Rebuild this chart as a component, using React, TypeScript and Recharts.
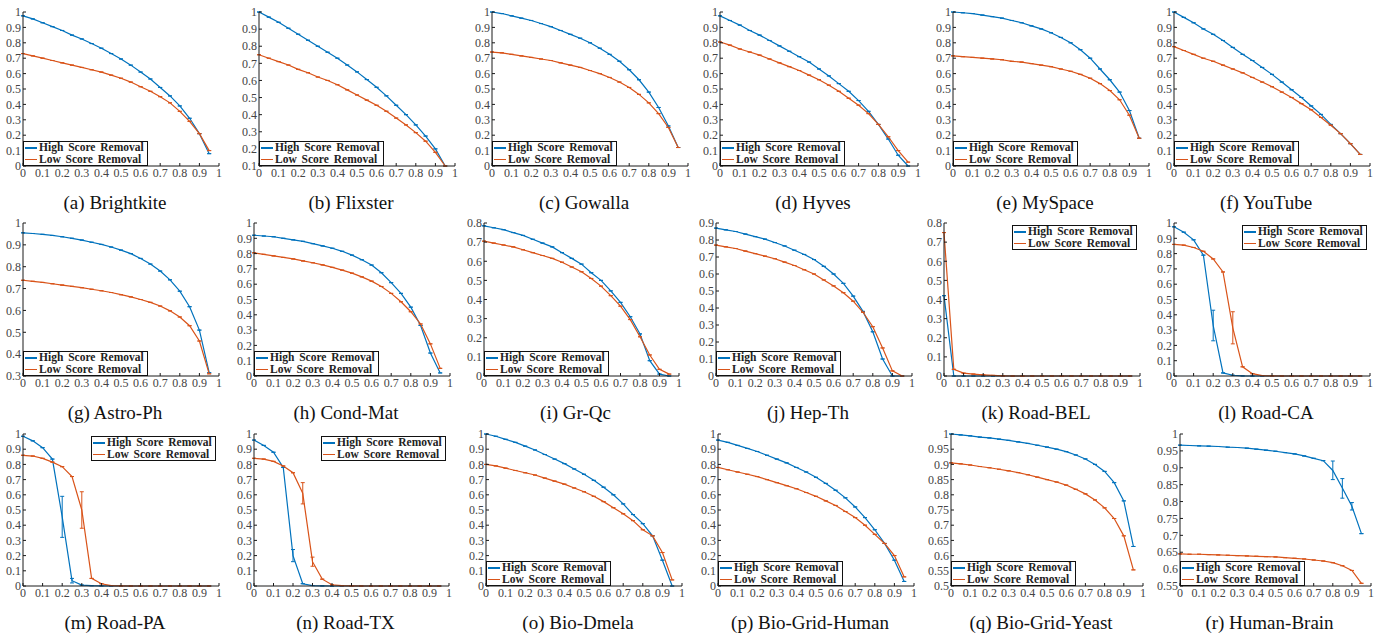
import React from "react";
import { LineChart, Line, XAxis, YAxis, ErrorBar } from "recharts";

// removal fraction (x) for every series
const xs = [0, 0.05, 0.1, 0.15, 0.2, 0.25, 0.3, 0.35, 0.4, 0.45, 0.5, 0.55, 0.6, 0.65, 0.7, 0.75, 0.8, 0.85, 0.9, 0.95];
const xTicks = [0, 0.1, 0.2, 0.3, 0.4, 0.5, 0.6, 0.7, 0.8, 0.9, 1];

const ticks0to1 = [0, 0.1, 0.2, 0.3, 0.4, 0.5, 0.6, 0.7, 0.8, 0.9, 1];
const ticks01to1 = [0.1, 0.2, 0.3, 0.4, 0.5, 0.6, 0.7, 0.8, 0.9, 1];
const ticks03to1 = [0.3, 0.4, 0.5, 0.6, 0.7, 0.8, 0.9, 1];
const ticks0to08 = [0, 0.1, 0.2, 0.3, 0.4, 0.5, 0.6, 0.7, 0.8];
const ticks0to09 = [0, 0.1, 0.2, 0.3, 0.4, 0.5, 0.6, 0.7, 0.8, 0.9];
const ticks05to1 = [0.5, 0.55, 0.6, 0.65, 0.7, 0.75, 0.8, 0.85, 0.9, 0.95, 1];
const ticks055to1 = [0.55, 0.6, 0.65, 0.7, 0.75, 0.8, 0.85, 0.9, 0.95, 1];

const brightkiteHigh = [0.975, 0.955, 0.93, 0.905, 0.88, 0.85, 0.825, 0.795, 0.765, 0.73, 0.695, 0.655, 0.61, 0.565, 0.51, 0.455, 0.39, 0.31, 0.21, 0.08];
const brightkiteLow = [0.73, 0.715, 0.7, 0.685, 0.67, 0.655, 0.64, 0.625, 0.61, 0.59, 0.57, 0.545, 0.515, 0.485, 0.45, 0.41, 0.355, 0.29, 0.21, 0.1];
const flixsterHigh = [1.0, 0.97, 0.94, 0.905, 0.87, 0.835, 0.8, 0.765, 0.73, 0.69, 0.65, 0.605, 0.56, 0.51, 0.455, 0.4, 0.34, 0.275, 0.2, 0.1];
const flixsterLow = [0.75, 0.73, 0.71, 0.69, 0.665, 0.645, 0.62, 0.6, 0.575, 0.545, 0.515, 0.485, 0.455, 0.42, 0.38, 0.34, 0.295, 0.245, 0.18, 0.1];
const gowallaHigh = [1.0, 0.99, 0.975, 0.96, 0.945, 0.925, 0.905, 0.88, 0.855, 0.83, 0.8, 0.765, 0.725, 0.68, 0.625, 0.56, 0.48, 0.38, 0.26, 0.12];
const gowallaLow = [0.74, 0.735, 0.725, 0.715, 0.705, 0.695, 0.685, 0.67, 0.655, 0.64, 0.62, 0.6, 0.575, 0.545, 0.51, 0.465, 0.41, 0.34, 0.25, 0.12];
const hyvesHigh = [0.975, 0.945, 0.915, 0.88, 0.85, 0.815, 0.78, 0.745, 0.71, 0.675, 0.63, 0.585, 0.535, 0.485, 0.425, 0.355, 0.27, 0.175, 0.07, 0.0];
const hyvesLow = [0.805, 0.785, 0.76, 0.74, 0.72, 0.695, 0.67, 0.645, 0.62, 0.59, 0.56, 0.525, 0.485, 0.44, 0.395, 0.34, 0.27, 0.19, 0.1, 0.025];
const myspaceHigh = [1.0, 0.995, 0.99, 0.98, 0.97, 0.96, 0.945, 0.93, 0.91, 0.89, 0.865, 0.835, 0.8, 0.755, 0.7, 0.63, 0.56, 0.48, 0.36, 0.18];
const myspaceLow = [0.715, 0.71, 0.705, 0.7, 0.695, 0.69, 0.68, 0.675, 0.665, 0.655, 0.645, 0.63, 0.615, 0.595, 0.57, 0.535, 0.49, 0.43, 0.33, 0.18];
const youtubeHigh = [1.0, 0.965, 0.93, 0.89, 0.855, 0.815, 0.77, 0.725, 0.685, 0.64, 0.595, 0.545, 0.495, 0.445, 0.39, 0.335, 0.27, 0.21, 0.145, 0.075];
const youtubeLow = [0.775, 0.75, 0.725, 0.7, 0.68, 0.655, 0.63, 0.605, 0.575, 0.545, 0.515, 0.48, 0.445, 0.405, 0.365, 0.315, 0.265, 0.21, 0.145, 0.075];

const astroHigh = [0.955, 0.952, 0.948, 0.943, 0.937, 0.93, 0.922, 0.912, 0.902, 0.89, 0.876, 0.86, 0.838, 0.812, 0.78, 0.74, 0.688, 0.617, 0.51, 0.315];
const astroLow = [0.738, 0.733, 0.728, 0.722, 0.716, 0.71, 0.704, 0.697, 0.69, 0.682, 0.672, 0.662, 0.65, 0.637, 0.62, 0.598, 0.57, 0.53, 0.46, 0.31];
const condMatHigh = [0.92, 0.915, 0.91, 0.9, 0.89, 0.88, 0.865, 0.85, 0.835, 0.815, 0.79, 0.76, 0.725, 0.675, 0.61, 0.54, 0.45, 0.33, 0.15, 0.02];
const condMatLow = [0.805, 0.795, 0.785, 0.775, 0.765, 0.752, 0.74, 0.726, 0.71, 0.692, 0.672, 0.648, 0.62, 0.585, 0.54, 0.485, 0.42, 0.34, 0.21, 0.05];
const grQcHigh = [0.785, 0.775, 0.765, 0.75, 0.735, 0.715, 0.695, 0.675, 0.645, 0.615, 0.585, 0.54, 0.5, 0.445, 0.385, 0.31, 0.22, 0.08, 0.01, 0.0];
const grQcLow = [0.705, 0.695, 0.685, 0.675, 0.66, 0.645, 0.63, 0.615, 0.595, 0.57, 0.545, 0.51, 0.47, 0.42, 0.365, 0.295, 0.205, 0.11, 0.035, 0.01];
const hepThHigh = [0.87, 0.86, 0.85, 0.835, 0.82, 0.805, 0.785, 0.765, 0.74, 0.715, 0.685, 0.645, 0.6, 0.545, 0.47, 0.38, 0.26, 0.1, 0.0, 0.0];
const hepThLow = [0.77, 0.76, 0.75, 0.735, 0.72, 0.705, 0.69, 0.67, 0.65, 0.625, 0.6, 0.565, 0.53, 0.49, 0.44, 0.375, 0.29, 0.165, 0.03, 0.0];
const roadBelHigh = [0.42, 0, 0, 0, 0, 0, 0, 0, 0, 0, 0, 0, 0, 0, 0, 0, 0, 0, 0, 0];
const roadBelLow = [0.75, 0.035, 0.015, 0.01, 0.006, 0.003, 0.001, 0, 0, 0, 0, 0, 0, 0, 0, 0, 0, 0, 0, 0];
const roadCaHigh = [0.975, 0.94, 0.89, 0.79, 0.33, 0.02, 0.005, 0.001, 0, 0, 0, 0, 0, 0, 0, 0, 0, 0, 0, 0];
const roadCaLow = [0.86, 0.855, 0.84, 0.815, 0.765, 0.68, 0.315, 0.06, 0.015, 0.003, 0.001, 0, 0, 0, 0, 0, 0, 0, 0, 0];

const roadPaHigh = [0.985, 0.955, 0.91, 0.835, 0.455, 0.035, 0.006, 0.002, 0.001, 0, 0, 0, 0, 0, 0, 0, 0, 0, 0, 0];
const roadPaLow = [0.86, 0.855, 0.84, 0.815, 0.785, 0.72, 0.5, 0.05, 0.015, 0.003, 0.001, 0, 0, 0, 0, 0, 0, 0, 0, 0];
const roadTxHigh = [0.96, 0.925, 0.88, 0.78, 0.2, 0.015, 0.003, 0.001, 0, 0, 0, 0, 0, 0, 0, 0, 0, 0, 0, 0];
const roadTxLow = [0.84, 0.835, 0.82, 0.79, 0.745, 0.61, 0.16, 0.045, 0.008, 0.002, 0.001, 0, 0, 0, 0, 0, 0, 0, 0, 0];
const dmelaHigh = [1.0, 0.985, 0.965, 0.945, 0.92, 0.895, 0.865, 0.835, 0.805, 0.77, 0.735, 0.695, 0.65, 0.6, 0.54, 0.47, 0.41, 0.33, 0.17, 0.0];
const dmelaLow = [0.8, 0.79, 0.775, 0.76, 0.745, 0.73, 0.71, 0.69, 0.67, 0.645, 0.62, 0.59, 0.555, 0.515, 0.475, 0.43, 0.37, 0.33, 0.22, 0.04];
const gridHumanHigh = [0.96, 0.945, 0.925, 0.905, 0.885, 0.86, 0.835, 0.81, 0.78, 0.75, 0.715, 0.675, 0.63, 0.58, 0.52, 0.45, 0.37, 0.28, 0.17, 0.03];
const gridHumanLow = [0.78, 0.765, 0.75, 0.735, 0.72, 0.7, 0.68, 0.66, 0.64, 0.615, 0.59, 0.56, 0.53, 0.49, 0.45, 0.4, 0.34, 0.28, 0.2, 0.06];
const gridYeastHigh = [1.0, 0.997, 0.994, 0.99, 0.987, 0.983, 0.979, 0.974, 0.969, 0.963, 0.957, 0.95, 0.942, 0.931, 0.918, 0.9, 0.877, 0.84, 0.78, 0.63];
const gridYeastLow = [0.905, 0.902, 0.898, 0.893, 0.889, 0.884, 0.879, 0.873, 0.866, 0.858, 0.85, 0.842, 0.832, 0.818, 0.803, 0.783, 0.757, 0.722, 0.665, 0.553];
const brainHigh = [0.967, 0.966, 0.965, 0.964, 0.963, 0.961, 0.96, 0.958, 0.955, 0.952, 0.949, 0.945, 0.941, 0.935, 0.928, 0.921, 0.892, 0.84, 0.786, 0.705];
const brainLow = [0.645, 0.644, 0.644, 0.643, 0.642, 0.641, 0.64, 0.639, 0.638, 0.637, 0.636, 0.634, 0.632, 0.63, 0.627, 0.624, 0.619, 0.61, 0.596, 0.558];

// visible error bars: [x, lower, upper]
type Bar = [number, number, number];
const roadCaHighBars: Bar[] = [[0.2, 0.23, 0.43]];
const roadCaLowBars: Bar[] = [[0.3, 0.21, 0.42]];
const roadPaHighBars: Bar[] = [[0.2, 0.32, 0.59], [0.25, 0.02, 0.05]];
const roadPaLowBars: Bar[] = [[0.3, 0.38, 0.62]];
const roadTxHighBars: Bar[] = [[0.2, 0.16, 0.24]];
const roadTxLowBars: Bar[] = [[0.25, 0.54, 0.68], [0.3, 0.13, 0.19]];
const brainHighBars: Bar[] = [[0.8, 0.865, 0.92], [0.85, 0.81, 0.868], [0.9, 0.775, 0.797]];

const captions = [
  "(a) Brightkite", "(b) Flixster", "(c) Gowalla", "(d) Hyves", "(e) MySpace", "(f) YouTube",
  "(g) Astro-Ph", "(h) Cond-Mat", "(i) Gr-Qc", "(j) Hep-Th", "(k) Road-BEL", "(l) Road-CA",
  "(m) Road-PA", "(n) Road-TX", "(o) Bio-Dmela", "(p) Bio-Grid-Human", "(q) Bio-Grid-Yeast", "(r) Human-Brain",
];

type PanelDef = {
  high: number[];
  low: number[];
  yTicks: number[];
  legend: "bl" | "tr";
  highBars?: Bar[];
  lowBars?: Bar[];
};

const panels: PanelDef[] = [
  { high: brightkiteHigh, low: brightkiteLow, yTicks: ticks0to1, legend: "bl" },
  { high: flixsterHigh, low: flixsterLow, yTicks: ticks01to1, legend: "bl" },
  { high: gowallaHigh, low: gowallaLow, yTicks: ticks0to1, legend: "bl" },
  { high: hyvesHigh, low: hyvesLow, yTicks: ticks0to1, legend: "bl" },
  { high: myspaceHigh, low: myspaceLow, yTicks: ticks0to1, legend: "bl" },
  { high: youtubeHigh, low: youtubeLow, yTicks: ticks0to1, legend: "bl" },
  { high: astroHigh, low: astroLow, yTicks: ticks03to1, legend: "bl" },
  { high: condMatHigh, low: condMatLow, yTicks: ticks0to1, legend: "bl" },
  { high: grQcHigh, low: grQcLow, yTicks: ticks0to08, legend: "bl" },
  { high: hepThHigh, low: hepThLow, yTicks: ticks0to09, legend: "bl" },
  { high: roadBelHigh, low: roadBelLow, yTicks: ticks0to08, legend: "tr" },
  { high: roadCaHigh, low: roadCaLow, yTicks: ticks0to1, legend: "tr", highBars: roadCaHighBars, lowBars: roadCaLowBars },
  { high: roadPaHigh, low: roadPaLow, yTicks: ticks0to1, legend: "tr", highBars: roadPaHighBars, lowBars: roadPaLowBars },
  { high: roadTxHigh, low: roadTxLow, yTicks: ticks0to1, legend: "tr", highBars: roadTxHighBars, lowBars: roadTxLowBars },
  { high: dmelaHigh, low: dmelaLow, yTicks: ticks0to1, legend: "bl" },
  { high: gridHumanHigh, low: gridHumanLow, yTicks: ticks0to1, legend: "bl" },
  { high: gridYeastHigh, low: gridYeastLow, yTicks: ticks05to1, legend: "bl" },
  { high: brainHigh, low: brainLow, yTicks: ticks055to1, legend: "bl", highBars: brainHighBars },
];

// plot-box layout (pixels)
const rowTops = [12, 223, 434];
const rowHeights = [154, 153, 152];
const colLefts = [
  [23, 259, 492, 720, 953, 1174],
  [23, 254, 484, 716, 944, 1174],
  [23, 254, 486, 718, 951, 1180],
];
const colWidths = [
  [196, 196, 196, 198, 196, 196],
  [196, 196, 195, 196, 196, 196],
  [196, 195, 196, 196, 192, 191],
];

const BLUE = "#0072BD";
const ORANGE = "#D95319";
const AXIS = "#1a1a1a";
const TICK = "#444";
const SERIF = "'Liberation Serif', 'Times New Roman', serif";
const YW = 40;
const MT = 8;
const MR = 10;

const fmt = (v: number) => String(Math.round(v * 100) / 100);
const blank = () => "";

function errs(vals: number[], bars?: Bar[]) {
  return xs.map((x, i) => {
    const b = bars?.find((bb) => Math.abs(bb[0] - x) < 1e-6);
    return b ? [vals[i] - b[1], b[2] - vals[i]] : [0, 0];
  });
}

function LegendBox({ style }: { style: React.CSSProperties }) {
  const row = (color: string, text: string) => (
    <div style={{ display: "flex", alignItems: "center", height: 11.5 }}>
      <span style={{ width: 12, height: 1.5, background: color, marginRight: 2, flexShrink: 0 }} />
      <span style={{ wordSpacing: 2 }}>{text}</span>
    </div>
  );
  return (
    <div
      style={{
        position: "absolute",
        boxSizing: "border-box",
        width: 125,
        height: 25,
        border: "1px solid #111",
        background: "#fff",
        padding: "0 0 0 1px",
        fontFamily: SERIF,
        fontWeight: 700,
        fontSize: 11.5,
        color: "#222",
        lineHeight: "11.5px",
        whiteSpace: "nowrap",
        ...style,
      }}
    >
      {row(BLUE, "High Score Removal")}
      {row(ORANGE, "Low Score Removal")}
    </div>
  );
}

function Panel({ p, caption, left, top, w, h }: { p: PanelDef; caption: string; left: number; top: number; w: number; h: number }) {
  const highErr = errs(p.high, p.highBars);
  const lowErr = errs(p.low, p.lowBars);
  const data = xs.map((x, i) => ({ x, high: p.high[i], low: p.low[i], highErr: highErr[i], lowErr: lowErr[i] }));
  const yDomain = [p.yTicks[0], p.yTicks[p.yTicks.length - 1]];
  const tickStyle = { fill: TICK, fontSize: 12, fontFamily: SERIF };
  const legendStyle: React.CSSProperties =
    p.legend === "bl" ? { left: YW, top: MT + h - 25 } : { left: YW + w - 128, top: MT + 2 };

  return (
    <>
      <div style={{ position: "absolute", left: left - YW, top: top - MT }}>
        <LineChart width={YW + w + MR} height={MT + h + 22} data={data} margin={{ top: MT, right: MR, left: 0, bottom: 0 }}>
          <XAxis dataKey="x" type="number" domain={[0, 1]} ticks={xTicks} interval={0} tickSize={-3} tickMargin={5}
            height={22} stroke={AXIS} tick={tickStyle} tickFormatter={fmt} />
          <XAxis xAxisId="top" orientation="top" dataKey="x" type="number" domain={[0, 1]} ticks={xTicks} interval={0}
            mirror tickSize={3} height={0} stroke={AXIS} tickFormatter={blank} />
          <YAxis type="number" domain={yDomain} ticks={p.yTicks} interval={0} tickSize={-3} tickMargin={5}
            width={YW} stroke={AXIS} tick={tickStyle} tickFormatter={fmt} />
          <YAxis yAxisId="right" orientation="right" type="number" domain={yDomain} ticks={p.yTicks} interval={0}
            mirror tickSize={3} width={0} stroke={AXIS} tickFormatter={blank} />
          <Line type="linear" dataKey="high" stroke={BLUE} strokeWidth={1.2} dot={false} isAnimationActive={false}>
            <ErrorBar dataKey="highErr" width={2} stroke={BLUE} strokeWidth={1} direction="y" />
          </Line>
          <Line type="linear" dataKey="low" stroke={ORANGE} strokeWidth={1.2} dot={false} isAnimationActive={false}>
            <ErrorBar dataKey="lowErr" width={2} stroke={ORANGE} strokeWidth={1} direction="y" />
          </Line>
        </LineChart>
        <LegendBox style={legendStyle} />
      </div>
      <div
        style={{
          position: "absolute",
          left: left + w / 2 - 6 - 110,
          width: 220,
          top: top + h + 27,
          textAlign: "center",
          fontFamily: SERIF,
          fontSize: 19,
          lineHeight: "20px",
          color: "#111",
        }}
      >
        {caption}
      </div>
    </>
  );
}

export default function App() {
  return (
    <div style={{ position: "absolute", left: 0, top: 0, width: 1379, height: 633, background: "#fff", overflow: "hidden" }}>
      {panels.map((p, i) => {
        const r = Math.floor(i / 6);
        const c = i % 6;
        return (
          <Panel key={i} p={p} caption={captions[i]} left={colLefts[r][c]} top={rowTops[r]} w={colWidths[r][c]} h={rowHeights[r]} />
        );
      })}
    </div>
  );
}
